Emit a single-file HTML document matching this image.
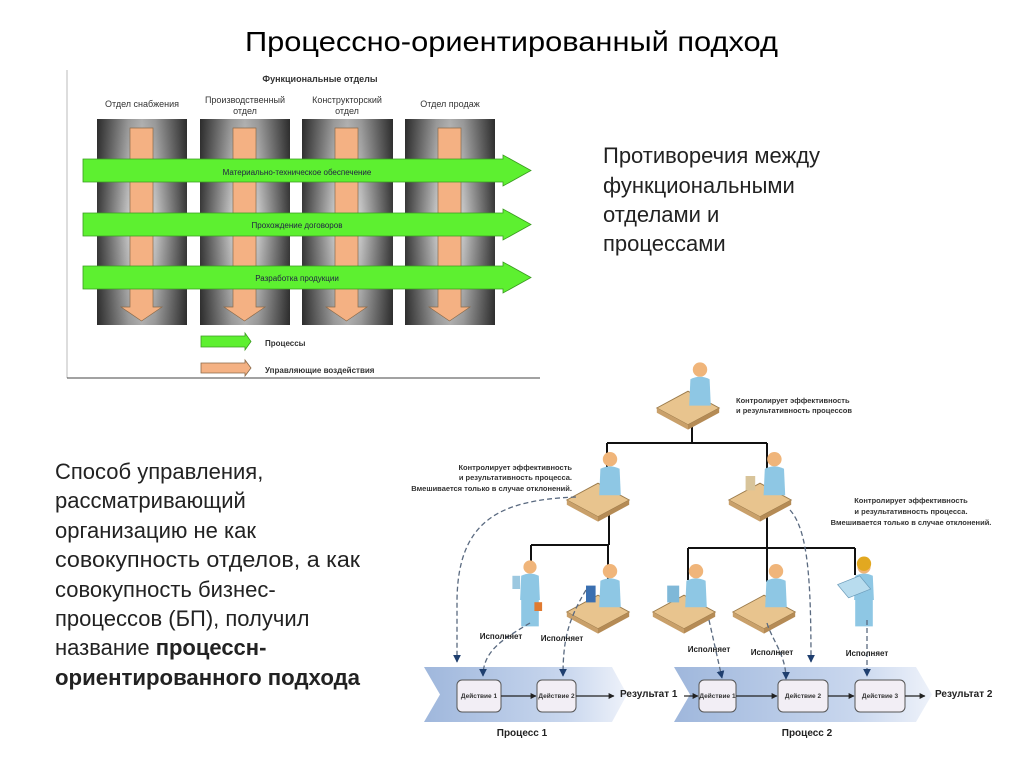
<!DOCTYPE html>
<html><head><meta charset="utf-8"><style>
html,body{margin:0;padding:0;background:#fff;}
svg{display:block;}
</style></head><body>
<svg width="1024" height="767" viewBox="0 0 1024 767" xmlns="http://www.w3.org/2000/svg" font-family="Liberation Sans, sans-serif">
<defs>
<linearGradient id="col" x1="0" x2="1" y1="0" y2="0">
<stop offset="0" stop-color="#3a3a3a"/><stop offset="0.35" stop-color="#c8c8c8"/><stop offset="0.5" stop-color="#e6e6e6"/><stop offset="0.65" stop-color="#c8c8c8"/><stop offset="1" stop-color="#3a3a3a"/>
</linearGradient>
<linearGradient id="colv" x1="0" x2="0" y1="0" y2="1">
<stop offset="0" stop-color="#000" stop-opacity="0.25"/><stop offset="0.5" stop-color="#000" stop-opacity="0"/><stop offset="1" stop-color="#000" stop-opacity="0.25"/>
</linearGradient>
<linearGradient id="band" x1="0" x2="1" y1="0" y2="0">
<stop offset="0" stop-color="#9fb7dc"/><stop offset="0.7" stop-color="#c9d7ee"/><stop offset="1" stop-color="#eef2fa"/>
</linearGradient>
<marker id="ah" viewBox="0 0 10 10" refX="9" refY="5" markerWidth="6" markerHeight="6" orient="auto"><path d="M0,0L10,5L0,10z" fill="#1f3f6f"/></marker>
<marker id="ak" viewBox="0 0 10 10" refX="9" refY="5" markerWidth="5" markerHeight="5" orient="auto"><path d="M0,0L10,5L0,10z" fill="#222"/></marker>
<g id="person">
<circle cx="0" cy="-30" r="6" fill="#f0b57a"/>
<path d="M-8,-22 Q0,-26 8,-22 L9,0 L-9,0 Z" fill="#8ec7e4"/>
</g>
<g id="desk">
<path d="M-26,0 L0,-14 L26,0 L0,14 Z" fill="#e8c48e" stroke="#9a7a4a" stroke-width="0.8"/>
<path d="M-26,0 L0,14 L0,18 L-26,4 Z" fill="#c9a06a"/>
<path d="M0,14 L26,0 L26,4 L0,18 Z" fill="#b58b55"/>
</g>
</defs>

<text x="245" y="51" font-size="28" textLength="533" lengthAdjust="spacingAndGlyphs">Процессно-ориентированный подход</text>

<!-- top diagram -->
<line x1="67" y1="70" x2="67" y2="378" stroke="#bbb" stroke-width="1"/>
<line x1="67" y1="378" x2="540" y2="378" stroke="#444" stroke-width="1"/>
<text x="320" y="82" font-size="9" font-weight="bold" fill="#333" text-anchor="middle">Функциональные отделы</text>
<g font-size="9" fill="#333" text-anchor="middle">
<text x="142" y="107">Отдел снабжения</text>
<text x="245" y="103">Производственный</text><text x="245" y="114">отдел</text>
<text x="347" y="103">Конструкторский</text><text x="347" y="114">отдел</text>
<text x="450" y="107">Отдел продаж</text>
</g>
<g>
<rect x="97" y="119" width="90" height="206" fill="url(#col)"/><rect x="97" y="119" width="90" height="206" fill="url(#colv)"/>
<rect x="200" y="119" width="90" height="206" fill="url(#col)"/><rect x="200" y="119" width="90" height="206" fill="url(#colv)"/>
<rect x="302" y="119" width="91" height="206" fill="url(#col)"/><rect x="302" y="119" width="91" height="206" fill="url(#colv)"/>
<rect x="405" y="119" width="90" height="206" fill="url(#col)"/><rect x="405" y="119" width="90" height="206" fill="url(#colv)"/>
</g>
<g fill="#f4b183" stroke="#8a6a4a" stroke-width="0.7">
<path d="M130,128h23v179h9l-20.5,14l-20.5,-14h9z"/>
<path d="M233,128h23v179h9l-20.5,14l-20.5,-14h9z"/>
<path d="M335,128h23v179h9l-20.5,14l-20.5,-14h9z"/>
<path d="M438,128h23v179h9l-20.5,14l-20.5,-14h9z"/>
</g>
<g fill="#5df030" stroke="#3a9a20" stroke-width="0.8">
<path d="M83,159H503V155L531,170.5L503,186V182H83Z"/>
<path d="M83,213H503V209L531,224.5L503,240V236H83Z"/>
<path d="M83,266H503V262L531,277.5L503,293V289H83Z"/>
<path d="M201,336H245V333L251,341.5L245,350V347H201Z"/>
</g>
<path d="M201,363H245V360L251,368L245,376V373H201Z" fill="#f4b183" stroke="#8a6a4a" stroke-width="0.8"/>
<g font-size="8" fill="#224" text-anchor="middle">
<text x="297" y="175">Материально-техническое обеспечение</text>
<text x="297" y="228">Прохождение договоров</text>
<text x="297" y="281">Разработка продукции</text>
</g>
<text x="265" y="346" font-size="8" font-weight="bold" fill="#333">Процессы</text>
<text x="265" y="373" font-size="8" font-weight="bold" fill="#333">Управляющие воздействия</text>

<g font-size="22" fill="#222">
<text x="603" y="163">Противоречия между</text>
<text x="603" y="193">функциональными</text>
<text x="603" y="222">отделами и</text>
<text x="603" y="251">процессами</text>
</g>

<g font-size="22" fill="#222">
<text x="55" y="479">Способ управления,</text>
<text x="55" y="508">рассматривающий</text>
<text x="55" y="538">организацию не как</text>
<text x="55" y="567" textLength="305" lengthAdjust="spacingAndGlyphs">совокупность отделов, а как</text>
<text x="55" y="597">совокупность бизнес-</text>
<text x="55" y="626">процессов (БП), получил</text>
<text x="55" y="655">название <tspan font-weight="bold">процессн-</tspan></text>
<text x="55" y="685" font-weight="bold" textLength="305" lengthAdjust="spacingAndGlyphs">ориентированного подхода</text>
</g>

<!-- bands -->
<path d="M424,667H612L627,694.5L612,722H424L440,694.5Z" fill="url(#band)"/>
<path d="M674,667H916L932,694.5L916,722H674L690,694.5Z" fill="url(#band)"/>
<!-- tree -->
<g stroke="#111" stroke-width="2" fill="none">
<path d="M692,418V443M607,443H767M607,443V500M767,443V505"/>
<path d="M609,515V545M531,545H609M531,545V572M608,545V580"/>
<path d="M767,515V548M688,548H855M688,548V580M767,548V582M855,548V575"/>
</g>
<!-- people -->
<g transform="translate(688,408) scale(1.2)"><use href="#desk"/><use href="#person" transform="translate(10,-2)"/></g>
<g transform="translate(598,500) scale(1.2)"><use href="#desk"/><use href="#person" transform="translate(10,-4)"/></g>
<g transform="translate(760,500) scale(1.2)"><use href="#desk"/><use href="#person" transform="translate(12,-4)"/><rect x="-12" y="-20" width="8" height="12" fill="#d8c49a"/></g>
<g transform="translate(530,600) scale(1.1)"><use href="#person"/><path d="M-8,0h16v24h-16z" fill="#8ec7e4"/><rect x="4" y="2" width="7" height="8" fill="#e07a30"/><rect x="-16" y="-22" width="7" height="12" fill="#9cc8e0"/></g>
<g transform="translate(598,612) scale(1.2)"><use href="#desk"/><use href="#person" transform="translate(10,-4)"/><rect x="-10" y="-22" width="8" height="14" fill="#3a6fb0"/></g>
<g transform="translate(684,612) scale(1.2)"><use href="#desk"/><use href="#person" transform="translate(10,-4)"/><rect x="-14" y="-22" width="10" height="14" fill="#7fb8d8"/></g>
<g transform="translate(764,612) scale(1.2)"><use href="#desk"/><use href="#person" transform="translate(10,-4)"/></g>
<g transform="translate(864,600) scale(1.1)"><use href="#person"/><circle cx="0" cy="-33" r="6.5" fill="#e2a820"/><path d="M-8,0h16v24h-16z" fill="#8ec7e4"/><path d="M-24,-14L-4,-22L6,-10L-14,-2Z" fill="#b8dcee" stroke="#6a9ab8" stroke-width="0.6"/></g>

<!-- dashed connectors -->
<g stroke="#5a6a80" stroke-width="1.3" fill="none" stroke-dasharray="5,3">
<path d="M576,497C500,500 458,520 457,600L457,662" marker-end="url(#ah)"/>
<path d="M790,510C808,530 811,580 811,662" marker-end="url(#ah)"/>
<path d="M530,623C505,638 483,650 483,676" marker-end="url(#ah)"/>
<path d="M586,590C568,620 563,640 563,676" marker-end="url(#ah)"/>
<path d="M709,620L722,678" marker-end="url(#ah)"/>
<path d="M767,623C772,640 786,655 786,679" marker-end="url(#ah)"/>
<path d="M867,620L867,676" marker-end="url(#ah)"/>
</g>
<!-- action boxes -->
<g fill="#f2eef5" stroke="#555" stroke-width="1">
<rect x="457" y="680" width="44" height="32" rx="5"/>
<rect x="537" y="680" width="39" height="32" rx="5"/>
<rect x="699" y="680" width="37" height="32" rx="5"/>
<rect x="778" y="680" width="50" height="32" rx="5"/>
<rect x="855" y="680" width="50" height="32" rx="5"/>
</g>
<g stroke="#222" stroke-width="1.2" marker-end="url(#ak)">
<line x1="501" y1="696" x2="536" y2="696"/>
<line x1="576" y1="696" x2="614" y2="696"/>
<line x1="684" y1="696" x2="698" y2="696"/>
<line x1="736" y1="696" x2="777" y2="696"/>
<line x1="828" y1="696" x2="854" y2="696"/>
<line x1="905" y1="696" x2="925" y2="696"/>
</g>
<g font-size="6.5" font-weight="bold" fill="#333" text-anchor="middle">
<text x="479" y="698">Действие 1</text>
<text x="556.5" y="698">Действие 2</text>
<text x="717.5" y="698">Действие 1</text>
<text x="803" y="698">Действие 2</text>
<text x="880" y="698">Действие 3</text>
</g>
<g font-size="10" font-weight="bold" fill="#222">
<text x="620" y="697">Результат 1</text>
<text x="935" y="697">Результат 2</text>
<text x="522" y="736" text-anchor="middle">Процесс 1</text>
<text x="807" y="736" text-anchor="middle">Процесс 2</text>
</g>
<g font-size="8" font-weight="bold" fill="#222" text-anchor="middle">
<text x="501" y="639">Исполняет</text>
<text x="562" y="641">Исполняет</text>
<text x="709" y="652">Исполняет</text>
<text x="772" y="655">Исполняет</text>
<text x="867" y="656">Исполняет</text>
</g>
<g font-size="7.5" font-weight="bold" fill="#333">
<text x="736" y="403">Контролирует эффективность</text>
<text x="736" y="413">и результативность процессов</text>
<g text-anchor="end">
<text x="572" y="470">Контролирует эффективность</text>
<text x="572" y="480">и результативность процесса.</text>
<text x="572" y="491">Вмешивается только в случае отклонений.</text>
</g>
<g text-anchor="middle">
<text x="911" y="503">Контролирует эффективность</text>
<text x="911" y="514">и результативность процесса.</text>
<text x="911" y="525">Вмешивается только в случае отклонений.</text>
</g>
</g>
</svg>
</body></html>
